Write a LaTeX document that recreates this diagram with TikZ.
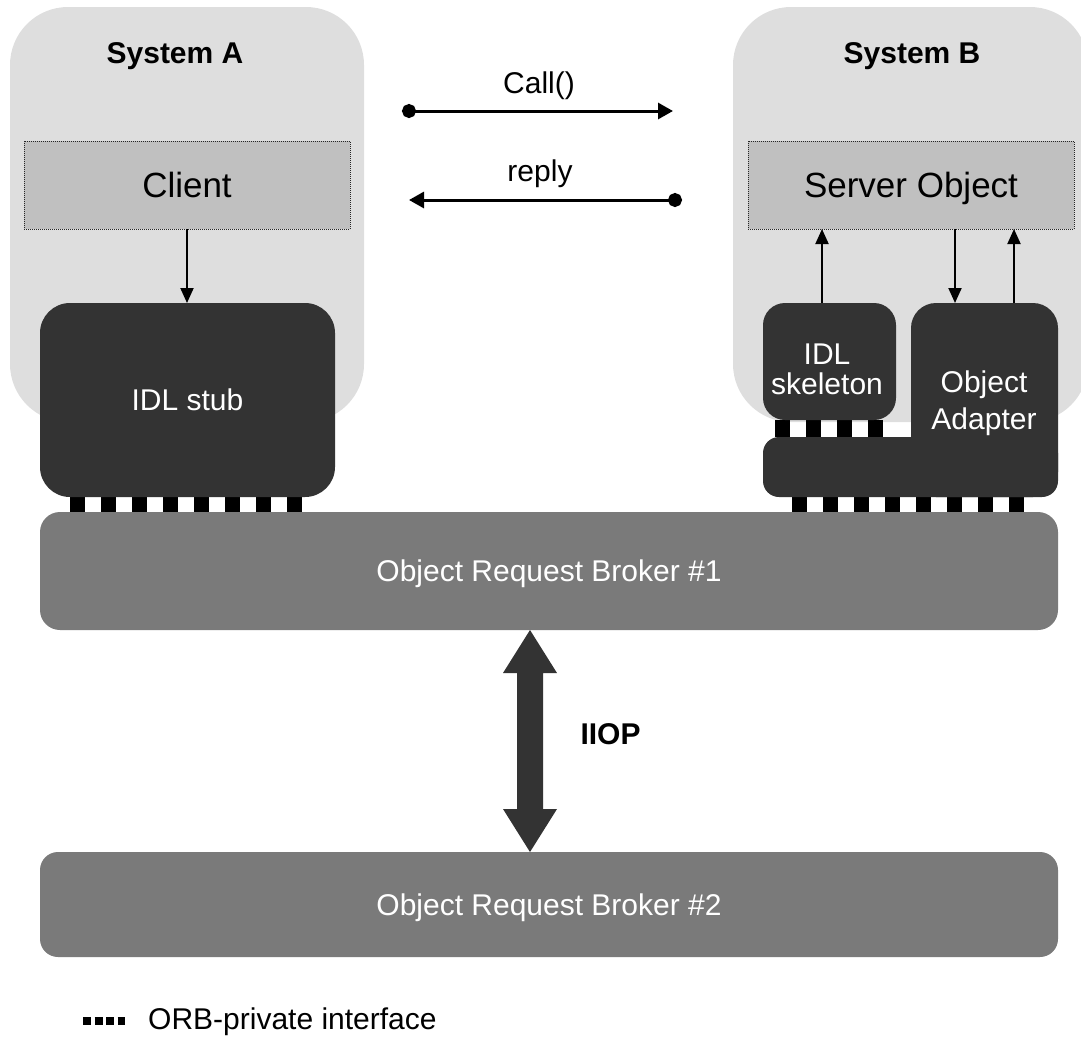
\documentclass[tikz,border=0pt]{standalone}
\usepackage{fontspec}
\setmainfont{Liberation Sans}
\usetikzlibrary{arrows.meta,calc}

\definecolor{sysgray}{HTML}{DEDEDE}
\definecolor{objgray}{HTML}{C0C0C0}
\definecolor{darkbox}{HTML}{333333}
\definecolor{orbgray}{HTML}{7A7A7A}

\tikzset{
  txt/.style={font=\fontsize{30}{36}\selectfont},
  bigtxt/.style={font=\fontsize{35}{42}\selectfont},
  boldtxt/.style={font=\fontsize{30}{36}\selectfont\bfseries},
  box/.style={rectangle, inner sep=0pt, outer sep=0pt, text depth=0pt},
  sysbox/.style={box, fill=sysgray, rounded corners=58pt},
  objbox/.style={box, bigtxt, fill=objgray, draw=black!85, line width=1pt,
    dash pattern=on 1pt off 1pt},
  darkpart/.style={box, txt, fill=darkbox, text=white},
  orbbox/.style={box, txt, fill=orbgray, text=white, rounded corners=20pt},
  flow/.style={line width=2pt, -{Triangle[length=15pt,width=13pt]}},
  msg/.style={line width=3pt, {Circle[length=14pt]}-{Triangle[length=15pt,width=16pt]}},
  privif/.style={line width=#1, dash pattern=on 15pt off 16pt},
}

\begin{document}
\begin{tikzpicture}[x=1pt,y=-1pt]
  \path[use as bounding box] (0,0) rectangle (1081,1045);

  % the two hosts
  \node[sysbox, minimum width=354pt, minimum height=415pt] (sysA) at (187,214.5) {};
  \node[sysbox, minimum width=355pt, minimum height=415pt] (sysB) at (910.5,214.5) {};
  \node[boldtxt, anchor=base] (sysAlbl) at (175,63) {System A};
  \node[boldtxt, anchor=base] (sysBlbl) at (912,63) {System B};

  % application objects
  \node[objbox, minimum width=326pt, minimum height=88pt] (client) at (187,185) {Client};
  \node[objbox, minimum width=326pt, minimum height=88pt] (server) at (911,185) {Server Object};

  % ORB-private interfaces (drawn first, the boxes sit on top)
  \draw[privif=15pt] (70,504.5) -- (302,504.5);
  \draw[privif=15pt] (792,504.5) -- (1024,504.5);
  \draw[privif=17pt] (775,428.5) -- (883,428.5);

  % stubs, skeletons and adapter
  \node[darkpart, rounded corners=30pt, minimum width=295pt, minimum height=194pt] (stub) at (187.5,400) {IDL stub};
  \node[darkpart, rounded corners=22pt, minimum width=133pt, minimum height=117pt] (skel) at (829.5,361.5) {};
  \node[txt, text=white, align=center, font=\fontsize{30}{30}\selectfont] (skellbl) at (827,369) {IDL\\skeleton};
  \node[darkpart, rounded corners=25pt, minimum width=147pt, minimum height=194pt] (adapter) at (984.5,400) {};
  \node[darkpart, rounded corners=16pt, minimum width=295pt, minimum height=60pt] (base) at (910.5,467) {};
  \node[txt, text=white, align=center, font=\fontsize{30}{37}\selectfont] (adlbl) at (984,403) {Object\\Adapter};

  % object request brokers
  \node[orbbox, minimum width=1018pt, minimum height=118pt] (orb1) at (549,571) {Object Request Broker \#1};
  \node[orbbox, rounded corners=18pt, minimum width=1018pt, minimum height=105pt] (orb2) at (549,904.5) {Object Request Broker \#2};

  % calls inside the hosts
  \draw[flow] (client.south) -- (client.south |- stub.north);
  \draw[flow] ([xshift=-7.5pt]skel.north) -- ([xshift=-7.5pt]skel.north |- server.south);
  \draw[flow] ([xshift=-29.5pt]adapter.north |- server.south) -- ([xshift=-29.5pt]adapter.north);
  \draw[flow] ([xshift=29.5pt]adapter.north) -- ([xshift=29.5pt]adapter.north |- server.south);

  % request and reply
  \coordinate (callS) at (402,111);
  \coordinate (callE) at (673,111);
  \coordinate (replyS) at (682,200);
  \coordinate (replyE) at (409,200);
  \draw[msg] (callS) -- (callE);
  \draw[msg] (replyS) -- (replyE);
  \node[txt, anchor=base] (calllbl) at (539,93) {Call()};
  \node[txt, anchor=base] (replylbl) at (540,181) {reply};

  % IIOP link between the brokers
  \coordinate (iT) at ([xshift=-19pt]orb1.south);
  \coordinate (iB) at ([xshift=-19pt]orb2.north);
  \fill[darkbox] (iT) -- ($(iT)+(27,43)$) -- ($(iT)+(13,43)$) -- ($(iB)+(13,-43)$)
    -- ($(iB)+(27,-43)$) -- (iB) -- ($(iB)+(-27,-43)$) -- ($(iB)+(-13,-43)$)
    -- ($(iT)+(-13,43)$) -- ($(iT)+(-27,43)$) -- cycle;
  \node[boldtxt, anchor=west] (iiop) at (577,734) {IIOP};

  % legend
  \draw[line width=8pt, dash pattern=on 8pt off 3.5pt] (83,1021) -- (125,1021);
  \node[txt, anchor=base west, inner sep=0pt] (legend) at (148,1029) {ORB-private interface};
\end{tikzpicture}
\end{document}
